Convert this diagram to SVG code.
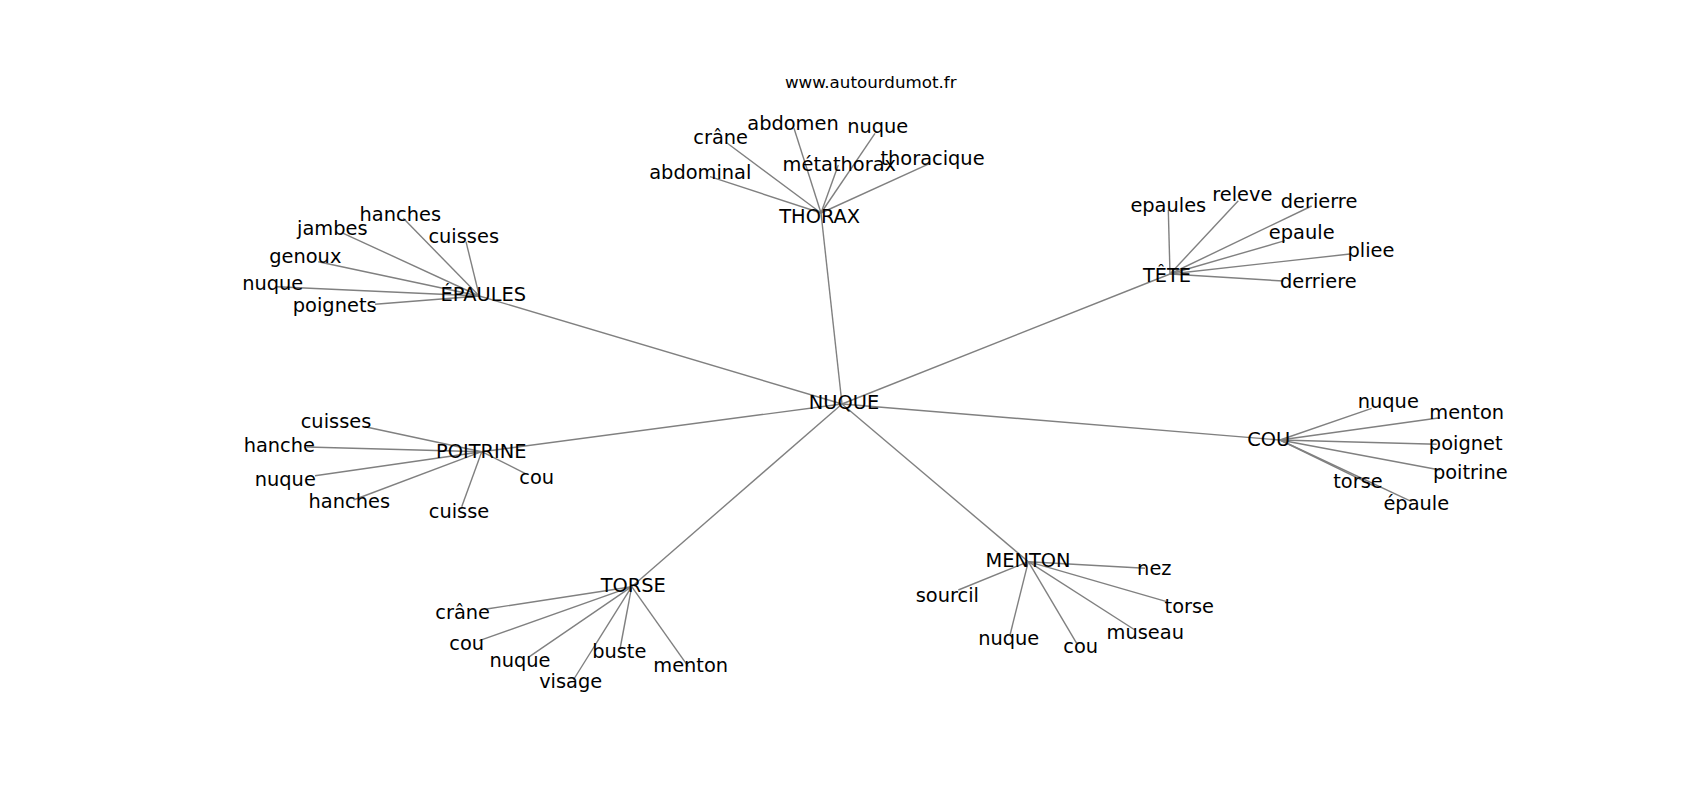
<svg xmlns="http://www.w3.org/2000/svg" width="1700" height="800" viewBox="0 0 1700 800">
<style>
.e{stroke:#808080;stroke-width:1.4;fill:none}
text{font-family:"DejaVu Sans","Liberation Sans",sans-serif;font-size:19.4px;fill:#000;text-anchor:middle}
.t{font-size:16.7px}
</style>
<rect width="1700" height="800" fill="#fff"/>
<g id="connectors">
<line class="e" x1="842" y1="404" x2="821" y2="213"/>
<line class="e" x1="842" y1="404" x2="479.3" y2="296"/>
<line class="e" x1="842" y1="404" x2="1170" y2="274"/>
<line class="e" x1="842" y1="404" x2="1280" y2="440"/>
<line class="e" x1="842" y1="404" x2="481.7" y2="451.7"/>
<line class="e" x1="842" y1="404" x2="631.7" y2="586.7"/>
<line class="e" x1="842" y1="404" x2="1028.3" y2="561.7"/>
<line class="e" x1="821" y1="213" x2="794" y2="128.3"/>
<line class="e" x1="821" y1="213" x2="726" y2="142.3"/>
<line class="e" x1="821" y1="213" x2="875" y2="133.3"/>
<line class="e" x1="821" y1="213" x2="838.3" y2="165"/>
<line class="e" x1="821" y1="213" x2="930" y2="163.3"/>
<line class="e" x1="821" y1="213" x2="710" y2="176.7"/>
<line class="e" x1="479.3" y1="296" x2="403.3" y2="218.3"/>
<line class="e" x1="479.3" y1="296" x2="343.3" y2="233.3"/>
<line class="e" x1="479.3" y1="296" x2="466" y2="241.7"/>
<line class="e" x1="479.3" y1="296" x2="318.3" y2="261.7"/>
<line class="e" x1="479.3" y1="296" x2="276.7" y2="286.7"/>
<line class="e" x1="479.3" y1="296" x2="375" y2="304.3"/>
<line class="e" x1="1170" y1="274" x2="1168.3" y2="210"/>
<line class="e" x1="1170" y1="274" x2="1238.3" y2="200.7"/>
<line class="e" x1="1170" y1="274" x2="1311.7" y2="206"/>
<line class="e" x1="1170" y1="274" x2="1285" y2="240.7"/>
<line class="e" x1="1170" y1="274" x2="1350" y2="254"/>
<line class="e" x1="1170" y1="274" x2="1283.3" y2="281"/>
<line class="e" x1="1280" y1="440" x2="1371.7" y2="408.3"/>
<line class="e" x1="1280" y1="440" x2="1440" y2="417.7"/>
<line class="e" x1="1280" y1="440" x2="1436.7" y2="444.3"/>
<line class="e" x1="1280" y1="440" x2="1440" y2="470"/>
<line class="e" x1="1280" y1="440" x2="1373.3" y2="485.7"/>
<line class="e" x1="1280" y1="440" x2="1411.7" y2="501.7"/>
<line class="e" x1="481.7" y1="451.7" x2="365" y2="426.7"/>
<line class="e" x1="481.7" y1="451.7" x2="306.7" y2="447"/>
<line class="e" x1="481.7" y1="451.7" x2="315" y2="475.7"/>
<line class="e" x1="481.7" y1="451.7" x2="353.3" y2="500"/>
<line class="e" x1="481.7" y1="451.7" x2="461.7" y2="506.7"/>
<line class="e" x1="481.7" y1="451.7" x2="525" y2="473.3"/>
<line class="e" x1="631.7" y1="586.7" x2="486.7" y2="609"/>
<line class="e" x1="631.7" y1="586.7" x2="479.3" y2="640.7"/>
<line class="e" x1="631.7" y1="586.7" x2="528.3" y2="657.3"/>
<line class="e" x1="631.7" y1="586.7" x2="573.3" y2="680"/>
<line class="e" x1="631.7" y1="586.7" x2="620" y2="649"/>
<line class="e" x1="631.7" y1="586.7" x2="688.3" y2="666.7"/>
<line class="e" x1="1028.3" y1="561.7" x2="1145" y2="568.3"/>
<line class="e" x1="1028.3" y1="561.7" x2="958.3" y2="590"/>
<line class="e" x1="1028.3" y1="561.7" x2="1166.7" y2="601.7"/>
<line class="e" x1="1028.3" y1="561.7" x2="1135" y2="630"/>
<line class="e" x1="1028.3" y1="561.7" x2="1010" y2="635"/>
<line class="e" x1="1028.3" y1="561.7" x2="1076.7" y2="643.3"/>
</g>
<g id="title"><text class="t" x="870.7" y="88.3">www.autourdumot.fr</text></g>
<g id="n-nuque"><text x="844" y="409.3">NUQUE</text></g>
<g id="n-thorax"><text x="819.7" y="223.3">THORAX</text></g>
<g id="thorax-abdomen"><text x="793" y="130">abdomen</text></g>
<g id="thorax-crane"><text x="720.7" y="144.3">crâne</text></g>
<g id="thorax-nuque"><text x="877.7" y="133.3">nuque</text></g>
<g id="thorax-metathorax"><text x="839.3" y="171">métathorax</text></g>
<g id="thorax-thoracique"><text x="932.5" y="165">thoracique</text></g>
<g id="thorax-abdominal"><text x="700.3" y="179.3">abdominal</text></g>
<g id="n-epaules"><text x="483.3" y="301">ÉPAULES</text></g>
<g id="epaules-hanches"><text x="400.3" y="221">hanches</text></g>
<g id="epaules-jambes"><text x="332.3" y="235">jambes</text></g>
<g id="epaules-cuisses"><text x="463.7" y="242.7">cuisses</text></g>
<g id="epaules-genoux"><text x="305.3" y="262.7">genoux</text></g>
<g id="epaules-nuque"><text x="272.7" y="290">nuque</text></g>
<g id="epaules-poignets"><text x="334.7" y="311.7">poignets</text></g>
<g id="n-tete"><text x="1167" y="282.3">TÊTE</text></g>
<g id="tete-epaules"><text x="1168.3" y="211.7">epaules</text></g>
<g id="tete-releve"><text x="1242.3" y="201">releve</text></g>
<g id="tete-derierre"><text x="1319" y="208.3">derierre</text></g>
<g id="tete-epaule"><text x="1301.7" y="239.3">epaule</text></g>
<g id="tete-pliee"><text x="1371" y="256.7">pliee</text></g>
<g id="tete-derriere"><text x="1318.3" y="288.3">derriere</text></g>
<g id="n-cou"><text x="1268.7" y="445.7">COU</text></g>
<g id="cou-nuque"><text x="1388.3" y="407.7">nuque</text></g>
<g id="cou-menton"><text x="1466.7" y="419.3">menton</text></g>
<g id="cou-poignet"><text x="1465.7" y="450">poignet</text></g>
<g id="cou-poitrine"><text x="1470.3" y="479.3">poitrine</text></g>
<g id="cou-torse"><text x="1358" y="488.3">torse</text></g>
<g id="cou-epaule"><text x="1416.3" y="510">épaule</text></g>
<g id="n-poitrine"><text x="481.3" y="457.7">POITRINE</text></g>
<g id="poitrine-cuisses"><text x="336" y="427.7">cuisses</text></g>
<g id="poitrine-hanche"><text x="279.3" y="451.7">hanche</text></g>
<g id="poitrine-nuque"><text x="285.3" y="486">nuque</text></g>
<g id="poitrine-hanches"><text x="349.3" y="508.3">hanches</text></g>
<g id="poitrine-cuisse"><text x="459" y="517.7">cuisse</text></g>
<g id="poitrine-cou"><text x="536.7" y="484.3">cou</text></g>
<g id="n-torse"><text x="633.3" y="592.3">TORSE</text></g>
<g id="torse-crane"><text x="462.7" y="619">crâne</text></g>
<g id="torse-cou"><text x="466.7" y="650">cou</text></g>
<g id="torse-nuque"><text x="520" y="666.7">nuque</text></g>
<g id="torse-visage"><text x="570.7" y="688.3">visage</text></g>
<g id="torse-buste"><text x="619.3" y="658.3">buste</text></g>
<g id="torse-menton"><text x="690.7" y="671.7">menton</text></g>
<g id="n-menton"><text x="1028" y="567.3">MENTON</text></g>
<g id="menton-nez"><text x="1154.3" y="575">nez</text></g>
<g id="menton-sourcil"><text x="947.3" y="602.3">sourcil</text></g>
<g id="menton-torse"><text x="1189.3" y="613.3">torse</text></g>
<g id="menton-museau"><text x="1145.3" y="639.3">museau</text></g>
<g id="menton-nuque"><text x="1008.7" y="645">nuque</text></g>
<g id="menton-cou"><text x="1080.7" y="653.3">cou</text></g>
</svg>
